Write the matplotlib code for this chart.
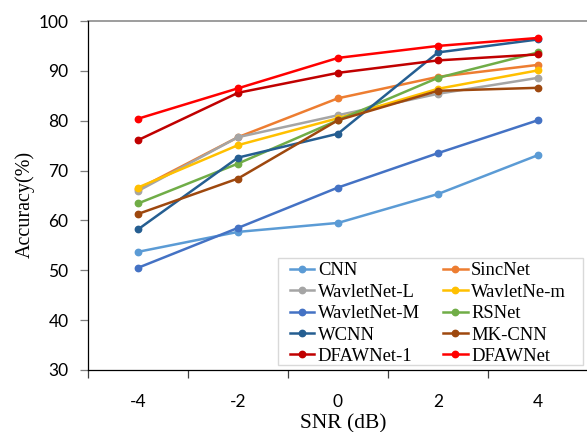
import matplotlib
matplotlib.use("Agg")
import matplotlib.pyplot as plt
from matplotlib.patches import Rectangle

snr = [-4, -2, 0, 2, 4]
snr_labels = ["-4", "-2", "0", "2", "4"]

cnn = [53.7, 57.7, 59.5, 65.3, 73.1]
sincnet = [66.3, 76.7, 84.5, 88.8, 91.2]
wavletnet_l = [65.9, 76.7, 81.1, 85.4, 88.6]
wavletne_m = [66.6, 75.1, 80.5, 86.4, 90.1]
wavletnet_M = [50.5, 58.5, 66.6, 73.5, 80.1]
rsnet = [63.4, 71.4, 80.1, 88.6, 93.7]
wcnn = [58.2, 72.6, 77.4, 93.7, 96.3]
mkcnn = [61.3, 68.4, 80.1, 86.0, 86.6]
dfawnet_1 = [76.1, 85.6, 89.6, 92.1, 93.3]
dfawnet = [80.4, 86.5, 92.6, 95.0, 96.6]

series = [
    ("CNN", cnn, "#5B9BD5"),
    ("SincNet", sincnet, "#ED7D31"),
    ("WavletNet-L", wavletnet_l, "#A5A5A5"),
    ("WavletNe-m", wavletne_m, "#FFC000"),
    ("WavletNet-M", wavletnet_M, "#4472C4"),
    ("RSNet", rsnet, "#70AD47"),
    ("WCNN", wcnn, "#255E91"),
    ("MK-CNN", mkcnn, "#9E480E"),
    ("DFAWNet-1", dfawnet_1, "#C00000"),
    ("DFAWNet", dfawnet, "#FF0000"),
]

W, H = 587, 432
fig = plt.figure(figsize=(W/100, H/100), dpi=100)
ax = fig.add_axes([88/W, (H-370)/H, 500/W, 349/H])

handles = []
for name, vals, col in series:
    h, = ax.plot(snr, vals, color=col, lw=1.8, marker="o", ms=4.6, label=name)
    handles.append(h)

ax.set_xlim(-5, 5)
ax.set_ylim(30, 100)
ax.set_xticks([-5, -3, -1, 1, 3, 5])
ax.set_xticklabels([])
ax.set_xticks(snr, minor=True)
ax.set_xticklabels(snr_labels, minor=True)
ax.set_yticks(range(30, 101, 10))

for lab in ax.get_yticklabels() + ax.get_xticklabels(minor=True):
    lab.set_fontfamily(["Lato", "DejaVu Sans"])
    lab.set_fontsize(12.5)

ax.tick_params(axis="y", which="major", direction="out", length=6, width=0.9,
               color="#7F7F7F", pad=8)
ax.tick_params(axis="x", which="major", direction="out", length=6, width=0.9,
               color="#404040")
ax.tick_params(axis="x", which="minor", length=0, pad=17)

for s in ["top", "right"]:
    ax.spines[s].set_visible(False)
for s in ["left", "bottom"]:
    ax.spines[s].set_color("black")
    ax.spines[s].set_linewidth(0.9)
ax.axhline(100, color="#8C8C8C", lw=1.2, clip_on=False, zorder=0.5)

serif = ["Liberation Serif", "DejaVu Serif"]
fig.text(24.5/W, 1-204/H, "Accuracy(%)", fontfamily=serif, fontsize=14.5,
         rotation=90, ha="center", va="center")
fig.text(343/W, 1-428/H, "SNR (dB)", fontfamily=serif, fontsize=15.5,
         ha="center", va="baseline")

# legend frame
ax.add_patch(Rectangle((278/W, 1-365/H), 305/W, 107/H, transform=fig.transFigure,
                       facecolor="white", edgecolor="#D9D9D9", lw=1.0,
                       clip_on=False, zorder=4))

order = [0, 2, 4, 6, 8, 1, 3, 5, 7, 9]
leg = ax.legend([handles[i] for i in order], [series[i][0] for i in order],
                ncol=2, loc="upper left",
                bbox_to_anchor=(290/W, 1-262/H), bbox_transform=fig.transFigure,
                borderaxespad=0, borderpad=0, prop={"family": serif, "size": 13.4},
                frameon=False, handlelength=1.3, handletextpad=0.2,
                columnspacing=1.25, labelspacing=0.24)
leg.set_zorder(5)

fig.savefig("out.png", dpi=100)
